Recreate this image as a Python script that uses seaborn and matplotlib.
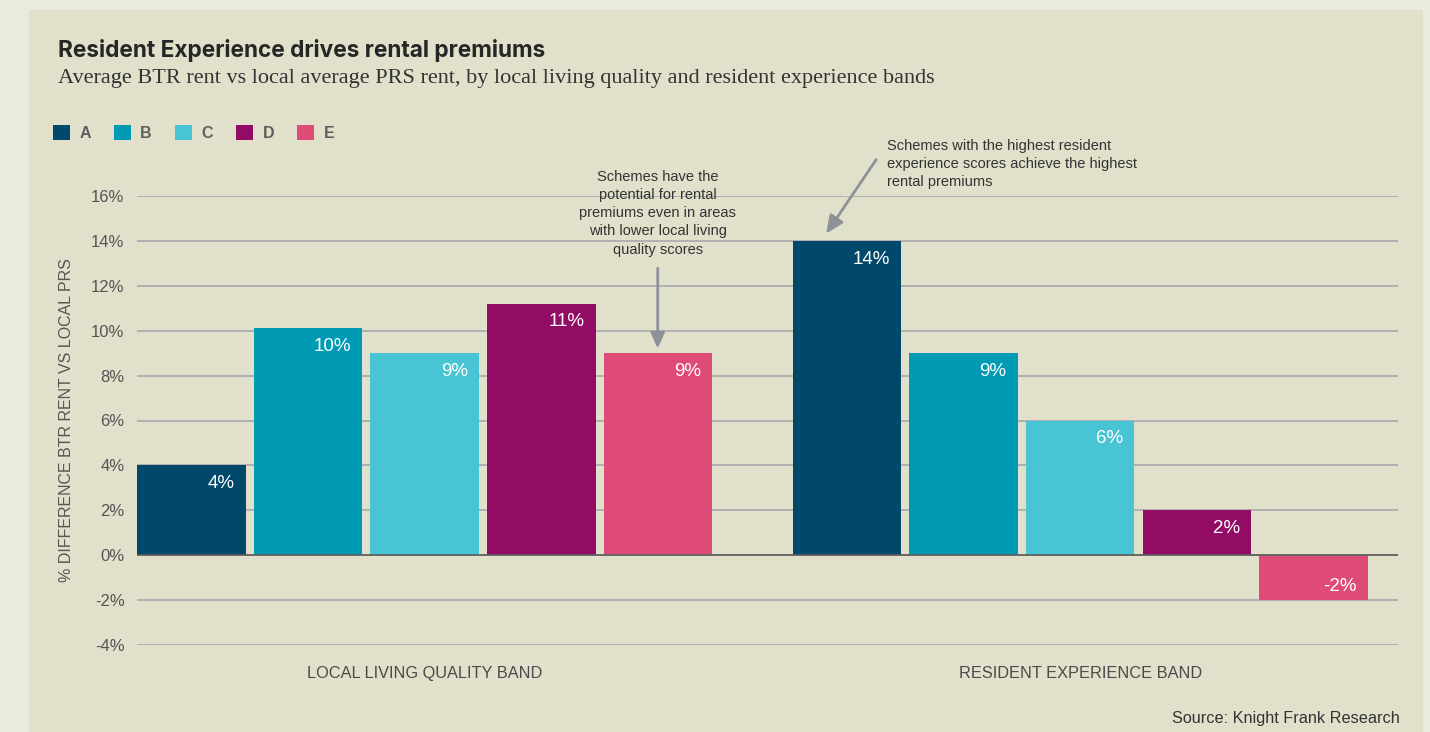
import matplotlib
matplotlib.use("Agg")
import matplotlib.pyplot as plt
from matplotlib.patches import Rectangle
import seaborn as sns
import pandas as pd

groups = ["LOCAL LIVING QUALITY BAND", "RESIDENT EXPERIENCE BAND"]
bands = ["A", "B", "C", "D", "E"]
local_living = [4.0, 10.1, 9.0, 11.2, 9.0]
resident_exp = [14.0, 9.0, 6.0, 2.0, -2.0]
colors = ["#00496B", "#009AB5", "#48C4D4", "#920C66", "#DE4B76"]
yticks = [-4, -2, 0, 2, 4, 6, 8, 10, 12, 14, 16]

df = pd.DataFrame({
    "group": [groups[0]] * 5 + [groups[1]] * 5,
    "band": bands * 2,
    "value": local_living + resident_exp,
})

sns.set_theme(style="white")
plt.rcParams["font.family"] = ["Liberation Sans", "DejaVu Sans"]

OUTER = "#EAEADD"
INNER = "#E0E0CB"
W, H = 1430, 732
fig = plt.figure(figsize=(W / 100, H / 100), dpi=100)
fig.patch.set_facecolor(OUTER)
fig.patches.append(Rectangle((29 / W, 0), (1423 - 29) / W, 1 - 10 / H,
                             transform=fig.transFigure, facecolor=INNER,
                             edgecolor="none", zorder=-10))

ax = fig.add_axes([137 / W, 1 - 645 / H, (1398 - 137) / W, (645 - 196) / H])
ax.set_facecolor("none")
ax.set_zorder(2)

sns.barplot(data=df, x="group", y="value", hue="band", palette=colors,
            width=0.89, gap=0.07, saturation=1, ax=ax, legend=True,
            linewidth=0, edgecolor="none", zorder=3)

ax.set_ylim(-4, 16)
ax.set_xlim(-0.439, 1.485)
ax.set_yticks(yticks)
ax.set_yticklabels([f"{t}%" for t in yticks])
for y in yticks:
    if y == 0:
        ax.axhline(0, color="#5E5E5E", lw=1.3, zorder=4)
    else:
        ax.axhline(y, color="#A2A3A8", lw=1.1, zorder=1)
for s in ax.spines.values():
    s.set_visible(False)
ax.tick_params(axis="both", length=0)
ax.tick_params(axis="y", labelsize=12, labelcolor="#555555", pad=9)
ax.tick_params(axis="x", labelsize=11.8, labelcolor="#4A4A4A", pad=15)
ax.set_xlabel("")
ax.set_ylabel("% DIFFERENCE BTR RENT VS LOCAL PRS", fontsize=11.5,
              color="#555555", labelpad=12)

# value labels inside bars, at the outer end, right-aligned
for cont in ax.containers:
    for p in cont.patches:
        h = p.get_height()
        xr = p.get_x() + p.get_width()
        if h >= 0:
            ax.annotate(f"{h:.0f}%", xy=(xr, h), xytext=(-8, -7),
                        textcoords="offset points", ha="right", va="top",
                        color="white", fontsize=13.5, zorder=5)
        else:
            ax.annotate(f"{h:.0f}%", xy=(xr, h), xytext=(-8, 4),
                        textcoords="offset points", ha="right", va="bottom",
                        color="white", fontsize=13.5, zorder=5)

# legend
handles, labels = ax.get_legend_handles_labels()
for hd in handles:
    hd.set_edgecolor("none")
    hd.set_linewidth(0)
leg = ax.legend(handles, labels, ncol=5, loc="upper left",
                bbox_to_anchor=(53 / W, 1 - 125 / H),
                bbox_transform=fig.transFigure, frameon=False,
                handlelength=1.05, handleheight=1.05, handletextpad=0.6,
                columnspacing=1.45, borderpad=0, borderaxespad=0,
                prop={"size": 11.5, "weight": "bold"})
for t in leg.get_texts():
    t.set_color("#5E5E5E")

# annotations
arrow_style = dict(arrowstyle="-|>,head_length=0.9,head_width=0.4",
                   color="#8E9298", lw=2, shrinkA=0, shrinkB=0)
ax.annotate("Schemes have the\npotential for rental\npremiums even in areas\nwith lower local living\nquality scores",
            xy=(0.3555, 9.2), xytext=(0.3555, 13.3), ha="center", va="bottom",
            fontsize=10.5, color="#333333", linespacing=1.38, zorder=6,
            arrowprops=dict(arrow_style, shrinkA=6))
ax.annotate("", xy=(0.6125, 14.32), xytext=(0.6888, 17.62),
            annotation_clip=False, zorder=6, arrowprops=arrow_style)
ax.text(0.7055, 16.33,
        "Schemes with the highest resident\nexperience scores achieve the highest\nrental premiums",
        ha="left", va="bottom", fontsize=10.5, color="#333333",
        linespacing=1.35, zorder=6, clip_on=False)

# titles
fig.text(58 / W, 1 - 51 / H, "Resident Experience drives rental premiums",
         fontsize=16.3, fontweight="bold", color="#262626", va="center",
         family=["Inter", "DejaVu Sans"])
fig.text(58 / W, 1 - 79 / H,
         "Average BTR rent vs local average PRS rent, by local living quality and resident experience bands",
         fontsize=16, color="#333333", va="center",
         family=["Liberation Serif", "DejaVu Serif"])
fig.text(1400 / W, 1 - 718 / H, "Source: Knight Frank Research",
         fontsize=11.7, color="#333333", ha="right", va="center")

fig.savefig("out.png", dpi=100, facecolor=fig.get_facecolor())
